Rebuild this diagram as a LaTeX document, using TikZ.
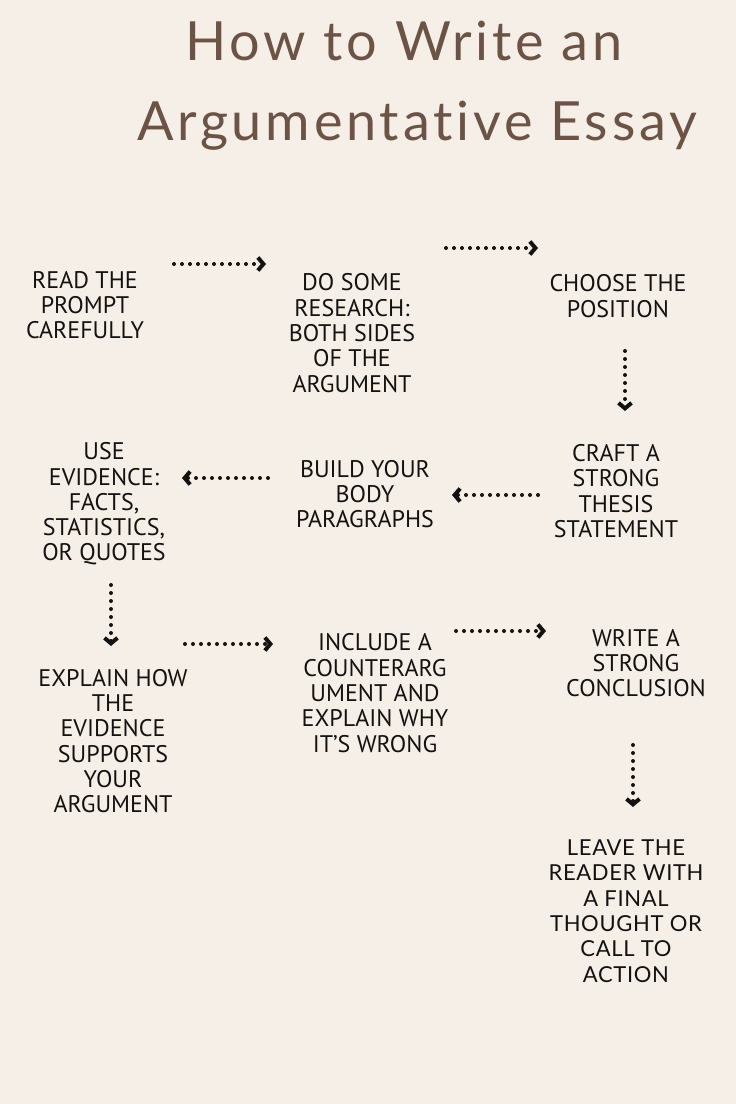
\documentclass[tikz,border=0pt]{standalone}
\usepackage{fontspec}
\setmainfont{PT Sans}
\newfontfamily\titlefont{Lato}[LetterSpace=7, Ligatures={NoCommon}]
\newfontfamily\closefont{Lato}[LetterSpace=3, Ligatures={NoCommon}]
\usetikzlibrary{arrows.meta}

\definecolor{paper}{HTML}{F6EFE8}
\definecolor{cocoa}{HTML}{6B5345}
\definecolor{ink}{HTML}{141210}

\begin{document}
\begin{tikzpicture}[
    x=1pt, y=-1pt,
    stepnode/.style={
        align=center,
        text=ink,
        inner sep=0pt,
        font=\fontsize{24}{25.3}\selectfont
    },
    closenode/.style={
        stepnode,
        font=\closefont\fontsize{22}{25.3}\selectfont
    },
    titleline/.style={
        text=cocoa,
        anchor=base,
        inner sep=0pt,
        font=\titlefont\fontsize{54}{60}\selectfont
    },
    flow/.style={
        ink,
        line width=4pt,
        line cap=round,
        dash pattern=on 0pt off 8pt,
        -{Straight Barb[length=5.5pt, width=13pt, line width=4pt]}
    }
]

% Page
\fill[paper] (0,0) rectangle (736,1104);
\useasboundingbox (0,0) rectangle (736,1104);

% Title
\node[titleline] (title1) at (404,60) {How to Write an};
\node[titleline] (title2) at (417,140) {Argumentative Essay};

% Row 1
\node[stepnode] (read) at (85,305) {READ THE\\PROMPT\\CAREFULLY};
\node[stepnode] (research) at (352,333) {DO SOME\\RESEARCH:\\BOTH SIDES\\OF THE\\ARGUMENT};
\node[stepnode] (choose) at (618,296) {CHOOSE THE\\POSITION};

% Row 2
\node[stepnode] (craft) at (616,491) {CRAFT A\\STRONG\\THESIS\\STATEMENT};
\node[stepnode] (build) at (365,494) {BUILD YOUR\\BODY\\PARAGRAPHS};
\node[stepnode] (evidence) at (104,504) {USE\\EVIDENCE:\\FACTS,\\STATISTICS,\\OR QUOTES};

% Row 3
\node[stepnode] (explain) at (113,741) {EXPLAIN HOW\\THE\\EVIDENCE\\SUPPORTS\\YOUR\\ARGUMENT};
\node[stepnode] (counter) at (375,693) {INCLUDE A\\COUNTERARG\\UMENT AND\\EXPLAIN WHY\\IT'S WRONG};
\node[stepnode] (conclude) at (636,663) {WRITE A\\STRONG\\CONCLUSION};

% Last step
\node[closenode] (leave) at (626,911) {LEAVE THE\\READER WITH\\A FINAL\\THOUGHT OR\\CALL TO\\ACTION};

% Arrow ends
\coordinate (readout) at (174,264);
\coordinate (researchin) at (266,264);
\coordinate (researchout) at (446,248);
\coordinate (choosein) at (538,248);
\coordinate (chooseout) at (625,351);
\coordinate (craftin) at (625,411);
\coordinate (craftout) at (538,495);
\coordinate (buildin) at (452,495);
\coordinate (buildout) at (268,478);
\coordinate (evidencein) at (182,478);
\coordinate (evidenceout) at (111,585);
\coordinate (explainin) at (111,646);
\coordinate (explainout) at (185,644);
\coordinate (counterin) at (273,644);
\coordinate (counterout) at (456,631);
\coordinate (concludein) at (546,631);
\coordinate (concludeout) at (633,745);
\coordinate (leavein) at (633,807);

% Connectors
\draw[flow] (readout) -- (researchin);
\draw[flow] (researchout) -- (choosein);
\draw[flow] (chooseout) -- (craftin);
\draw[flow] (craftout) -- (buildin);
\draw[flow] (buildout) -- (evidencein);
\draw[flow] (evidenceout) -- (explainin);
\draw[flow] (explainout) -- (counterin);
\draw[flow] (counterout) -- (concludein);
\draw[flow] (concludeout) -- (leavein);

\end{tikzpicture}
\end{document}
